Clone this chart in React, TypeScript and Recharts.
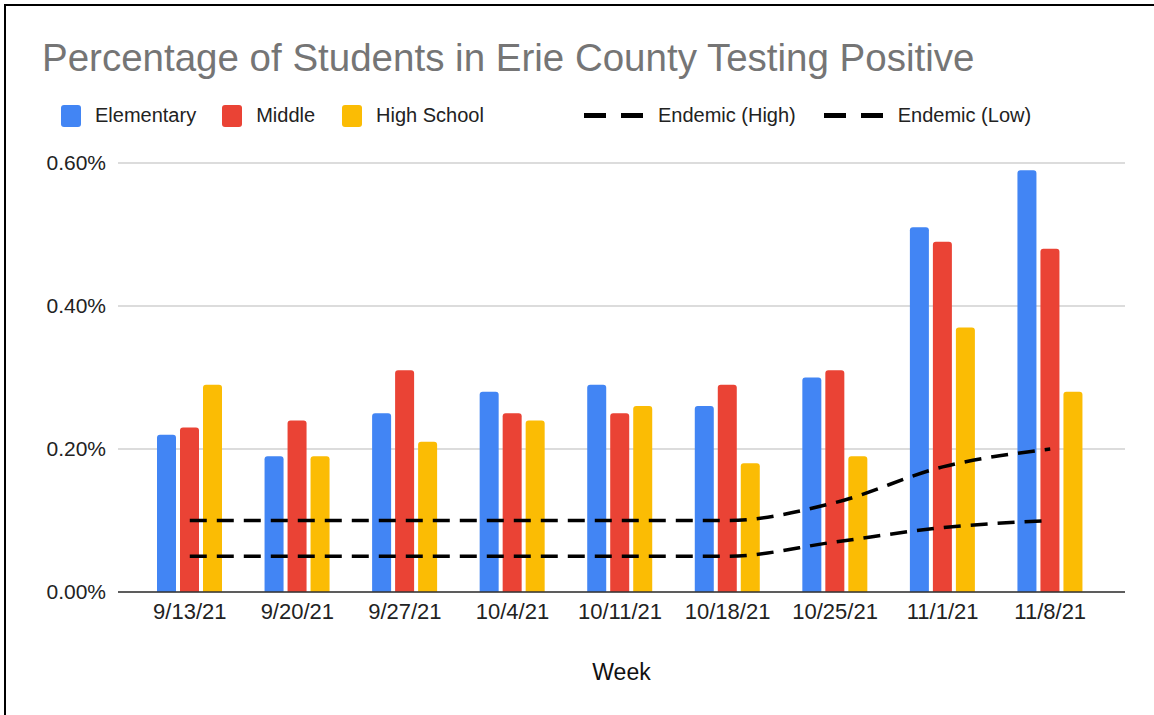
import { ComposedChart, Bar, Line, XAxis, YAxis, CartesianGrid } from "recharts";

const weeks = ["9/13/21", "9/20/21", "9/27/21", "10/4/21", "10/11/21", "10/18/21", "10/25/21", "11/1/21", "11/8/21"];
const elementary = [0.22, 0.19, 0.25, 0.28, 0.29, 0.26, 0.3, 0.51, 0.59];
const middle = [0.23, 0.24, 0.31, 0.25, 0.25, 0.29, 0.31, 0.49, 0.48];
const highSchool = [0.29, 0.19, 0.21, 0.24, 0.26, 0.18, 0.19, 0.37, 0.28];
const endemicHigh = [0.1, 0.1, 0.1, 0.1, 0.1, 0.1, 0.125, 0.175, 0.2];
const endemicLow = [0.05, 0.05, 0.05, 0.05, 0.05, 0.05, 0.07, 0.09, 0.1];
const yTicks = [0, 0.2, 0.4, 0.6];

const data = weeks.map((week, i) => ({
  week,
  elementary: elementary[i],
  middle: middle[i],
  highSchool: highSchool[i],
  endemicHigh: endemicHigh[i],
  endemicLow: endemicLow[i],
}));

const font = "Arial, 'Liberation Sans', sans-serif";

const legendItems = [
  { name: "Elementary", color: "#4285F4", kind: "bar", gap: 26 },
  { name: "Middle", color: "#EA4335", kind: "bar", gap: 27 },
  { name: "High School", color: "#FBBC04", kind: "bar", gap: 100 },
  { name: "Endemic (High)", color: "#000", kind: "line", gap: 28 },
  { name: "Endemic (Low)", color: "#000", kind: "line", gap: 0 },
];

function LegendRow() {
  return (
    <div style={{ display: "flex", alignItems: "center", fontFamily: font, fontSize: 20, color: "#222" }}>
      {legendItems.map((it) => (
        <div key={it.name} style={{ display: "flex", alignItems: "center", marginRight: it.gap }}>
          {it.kind === "bar" ? (
            <span style={{ width: 20, height: 22, background: it.color, borderRadius: 3, marginRight: 14 }} />
          ) : (
            <span style={{ display: "flex", marginRight: 15 }}>
              <span style={{ width: 22, height: 5, background: it.color, marginRight: 15 }} />
              <span style={{ width: 22, height: 5, background: it.color }} />
            </span>
          )}
          <span>{it.name}</span>
        </div>
      ))}
    </div>
  );
}

export default function App() {
  return (
    <div style={{ position: "absolute", left: 0, top: 0, width: 1154, height: 715, overflow: "hidden", background: "#fff" }}>
      <div style={{ position: "absolute", left: 4, top: 4, width: 1170, height: 740, border: "2px solid #000" }} />
      <div style={{ position: "absolute", left: 42, top: 36, fontFamily: font, fontSize: 38.5, color: "#757575", whiteSpace: "nowrap" }}>
        Percentage of Students in Erie County Testing Positive
      </div>
      <div style={{ position: "absolute", left: 61, top: 104 }}>
        <LegendRow />
      </div>
      <div style={{ position: "absolute", left: 0, top: 0 }}>
        <ComposedChart
          width={1154}
          height={715}
          data={data}
          margin={{ top: 163, right: 29, left: 0, bottom: 0 }}
          barSize={19}
          barGap={4}
        >
          <CartesianGrid vertical={false} stroke="#d0d0d0" strokeWidth={1.5} />
          <XAxis
            dataKey="week"
            height={123}
            tickSize={0}
            tickMargin={11}
            padding={{ left: 18, right: 21 }}
            axisLine={{ stroke: "#333", strokeWidth: 1.5 }}
            tick={{ fill: "#222", fontSize: 22, fontFamily: font }}
            interval={0}
            label={{ value: "Week", position: "insideBottom", offset: 35, fill: "#111", fontSize: 23, fontFamily: font }}
          />
          <YAxis
            width={118}
            domain={[0, 0.6]}
            ticks={yTicks}
            tickSize={0}
            tickMargin={12}
            axisLine={false}
            tickFormatter={(v: number) => `${v.toFixed(2)}%`}
            tick={{ fill: "#222", fontSize: 21, fontFamily: font }}
          />
          <Bar dataKey="elementary" name="Elementary" fill="#4285F4" radius={[3, 3, 0, 0]} isAnimationActive={false} />
          <Bar dataKey="middle" name="Middle" fill="#EA4335" radius={[3, 3, 0, 0]} isAnimationActive={false} />
          <Bar dataKey="highSchool" name="High School" fill="#FBBC04" radius={[3, 3, 0, 0]} isAnimationActive={false} />
          <Line
            type="monotone"
            dataKey="endemicHigh"
            name="Endemic (High)"
            stroke="#000"
            strokeWidth={3.5}
            strokeDasharray="17 10"
            dot={false}
            activeDot={false}
            isAnimationActive={false}
          />
          <Line
            type="monotone"
            dataKey="endemicLow"
            name="Endemic (Low)"
            stroke="#000"
            strokeWidth={3.5}
            strokeDasharray="17 10"
            dot={false}
            activeDot={false}
            isAnimationActive={false}
          />
        </ComposedChart>
      </div>
    </div>
  );
}
